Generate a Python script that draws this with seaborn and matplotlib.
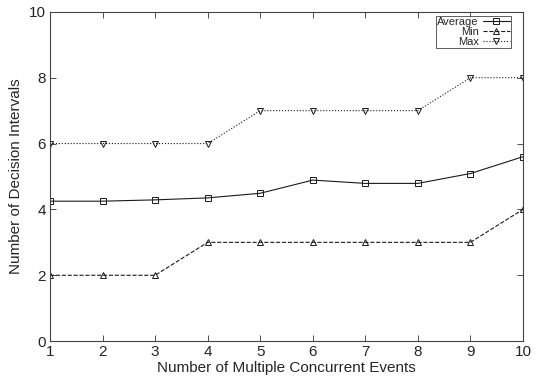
import numpy as np
import pandas as pd
import matplotlib
matplotlib.use('Agg')
import matplotlib.pyplot as plt
import seaborn as sns

events = [1, 2, 3, 4, 5, 6, 7, 8, 9, 10]
avg_intervals = [4.25, 4.25, 4.29, 4.35, 4.49, 4.89, 4.79, 4.79, 5.09, 5.6]
min_intervals = [2, 2, 2, 3, 3, 3, 3, 3, 3, 4]
max_intervals = [6, 6, 6, 6, 7, 7, 7, 7, 8, 8]

sns.set_style('ticks')
plt.rcParams['font.family'] = ['Liberation Sans', 'DejaVu Sans']

fig = plt.figure(figsize=(5.35, 3.82), dpi=100)
ax = fig.add_axes([0.0935, 0.107, 0.884, 0.862])

STYLES = [
    ('Average', avg_intervals, '-', 's'),
    ('Min', min_intervals, '--', '^'),
    ('Max', max_intervals, ':', 'v'),
]
for label, vals, ls, mk in STYLES:
    sns.lineplot(x=events, y=vals, ax=ax, color='#1a1a1a', linewidth=0.8,
                 linestyle=ls, marker=mk, markersize=4, markerfacecolor='none',
                 markeredgecolor='#1a1a1a', markeredgewidth=0.7, label=label)

ax.set_xlim(1, 10)
ax.set_ylim(0, 10)
ax.set_xticks(events)
ax.set_yticks([0, 2, 4, 6, 8, 10])
ax.tick_params(direction='in', top=True, right=True, labelsize=11, length=4,
               width=0.6, color='#333333', pad=3)
for s in ax.spines.values():
    s.set_linewidth(0.8)
    s.set_color('#444444')
ax.set_xlabel('Number of Multiple Concurrent Events', fontsize=11, labelpad=1)
ax.set_ylabel('Number of Decision Intervals', fontsize=11, labelpad=4)

leg = ax.legend(loc='upper right', bbox_to_anchor=(0.975, 0.988),
                markerfirst=False, fontsize=8, frameon=True,
                fancybox=False, edgecolor='#333333', handlelength=2.4,
                labelspacing=0.0, borderpad=0.12, handletextpad=0.4,
                borderaxespad=0)
leg.get_frame().set_linewidth(0.7)

fig.savefig('out.png', dpi=100)
